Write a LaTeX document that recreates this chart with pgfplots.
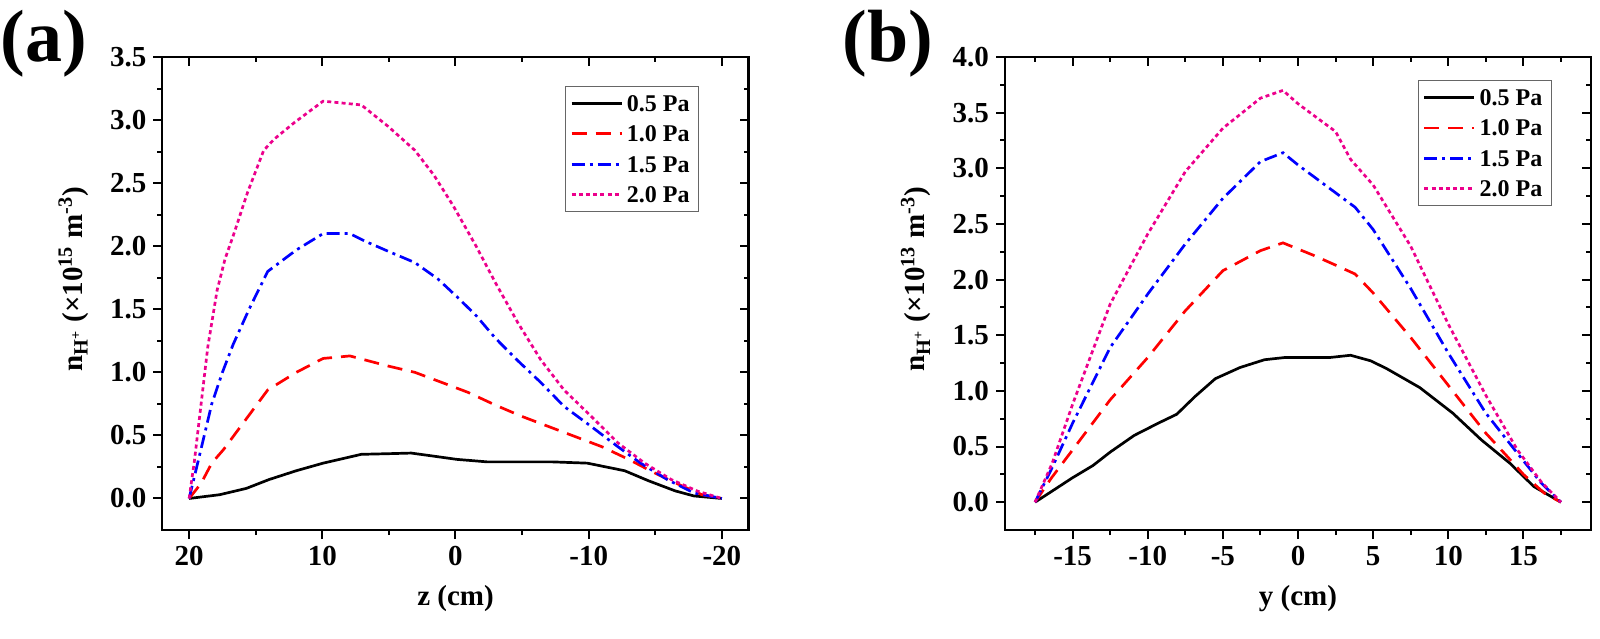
\documentclass[border=0pt]{standalone}
\usepackage{fontspec}
\setmainfont{Liberation Serif}
\usepackage{pgfplots}
\usepackage{pgfplotstable}
\pgfplotsset{compat=1.18}

\pgfplotstableread{
x y
20 0
17.7 0.03
15.7 0.08
14.0 0.15
11.95 0.22
9.94 0.28
7.07 0.35
5.06 0.355
3.33 0.36
1.6 0.335
-0.1 0.31
-2.4 0.29
-4.4 0.29
-7.3 0.29
-9.9 0.28
-12.7 0.22
-14.5 0.14
-16.5 0.06
-17.9 0.02
-20 0
}\aA
\pgfplotstableread{
x y
20 0
19.1 0.12
18.3 0.28
17.4 0.39
16.7 0.49
14.1 0.86
11.95 1.0
9.94 1.11
7.93 1.13
5.06 1.05
3.05 1.0
1.03 0.92
-0.97 0.84
-3.0 0.74
-5.0 0.65
-7.0 0.57
-9.0 0.49
-11.0 0.41
-13.0 0.31
-15.0 0.20
-17.0 0.10
-18.5 0.03
-20 0
}\aB
\pgfplotstableread{
x y
20 0
19.2 0.35
18.3 0.75
17.5 1.0
16.7 1.22
15.5 1.5
14.1 1.80
11.95 1.97
9.94 2.10
7.93 2.10
6.8 2.04
5.06 1.96
3.05 1.87
1.32 1.74
-0.1 1.60
-1.55 1.45
-3.0 1.27
-4.7 1.09
-6.4 0.92
-8.15 0.73
-10.2 0.57
-12.2 0.41
-13.9 0.28
-15.9 0.15
-17.9 0.044
-20 0
}\aC
\pgfplotstableread{
x y
20 0
19.6 0.30
19.1 0.75
18.6 1.2
17.9 1.65
17.3 1.9
16.7 2.08
15.6 2.43
14.4 2.76
13.6 2.85
12.1 2.98
9.94 3.15
7.07 3.12
5.06 2.95
3.05 2.76
1.6 2.56
0.17 2.32
-1.55 2.0
-3.0 1.71
-4.7 1.39
-6.4 1.10
-8.15 0.86
-10.2 0.65
-12.2 0.44
-14.2 0.28
-16.2 0.15
-18.2 0.057
-20 0
}\aD

\pgfplotstableread{
x y
-17.5 0
-16.36 0.1
-15 0.22
-13.64 0.33
-12.5 0.45
-10.9 0.60
-9.3 0.71
-8.07 0.79
-6.85 0.95
-5.5 1.11
-3.86 1.21
-2.23 1.28
-0.87 1.30
0.5 1.30
2.12 1.30
3.5 1.32
4.84 1.27
5.9 1.20
8.1 1.03
10.3 0.80
12.2 0.56
14.1 0.35
15.7 0.14
17.5 0
}\bA
\pgfplotstableread{
x y
-17.5 0
-16.4 0.22
-15 0.47
-12.5 0.92
-10 1.30
-7.5 1.72
-5 2.08
-2.5 2.26
-1 2.33
1 2.22
2.5 2.13
3.8 2.05
5 1.88
7.5 1.48
10 1.05
12.5 0.62
14 0.40
15 0.25
16.4 0.08
17.5 0
}\bB
\pgfplotstableread{
x y
-17.5 0
-16.4 0.30
-15 0.71
-12.5 1.39
-10 1.87
-7.5 2.32
-5 2.73
-2.5 3.06
-1 3.14
0 3.03
2.5 2.78
3.8 2.65
5 2.45
7.5 1.92
10 1.34
12.5 0.80
14.6 0.44
16.2 0.17
17.5 0
}\bC
\pgfplotstableread{
x y
-17.5 0
-16.36 0.35
-15 0.88
-12.5 1.78
-10 2.41
-7.5 2.97
-5 3.36
-2.5 3.63
-1 3.70
0 3.58
2.5 3.33
3.5 3.08
5 2.85
7.5 2.30
10 1.60
12.5 0.96
14.6 0.47
16.2 0.18
17.5 0
}\bD

\pgfplotsset{
  myaxis/.style={
    scale only axis, width=293pt, height=236.5pt,
    axis line style={line width=1pt},
    tick style={line width=1pt, black},
    major tick length=4.5pt, minor tick length=2.5pt,
    tick align=outside, xtick pos=left, ytick pos=left,
    ticklabel style={font=\fontsize{14.5}{16}\selectfont\bfseries},
    label style={font=\fontsize{14.5}{16}\selectfont\bfseries},
    xlabel style={at={(axis description cs:0.5,-0.144)}, anchor=center},
    ylabel style={at={(axis description cs:-0.152,0.53)}, anchor=center},
    legend cell align=left,
    legend style={draw=black!60,
      font=\fontsize{12}{13}\selectfont\bfseries,
      inner sep=2.5pt, row sep=3.2pt,
      nodes={inner sep=2pt, text height=8pt, text depth=0pt},
      anchor=north east},
    legend image code/.code={\draw[#1] (0pt,0pt) -- (25pt,0pt);},
  },
  mirror/.style={
    scale only axis, width=293pt, height=236.5pt,
    axis line style={line width=1pt},
    tick style={line width=1pt, black},
    major tick length=4.5pt, minor tick length=2.5pt,
    tick align=inside, xtick pos=right, ytick pos=right,
    xticklabels={}, yticklabels={},
  },
  s05/.style={black, line width=1.35pt},
  s10/.style={red, line width=1.35pt, dash pattern=on 7.5pt off 4.5pt},
  s15/.style={blue, line width=1.35pt, dash pattern=on 6.5pt off 2.5pt on 1.5pt off 2.5pt},
  s20/.style={magenta, line width=1.35pt, dash pattern=on 2pt off 1.6pt},
}

\newcommand{\ylab}[1]{n\textsubscript{H\textsuperscript{+}} (×10\textsuperscript{#1} m\textsuperscript{-3})}

\begin{document}
\begin{tikzpicture}
\useasboundingbox (-81.25pt,-54pt) rectangle (718.75pt,265pt);

% ---------- panel (a)
\begin{axis}[myaxis, name=a, at={(0pt,0pt)}, anchor=south west,
  x dir=reverse, xmin=-22, xmax=22, ymin=-0.25, ymax=3.5,
  xtick={-20,-10,0,10,20}, xticklabels={-20,-10,0,10,20},
  minor xtick={-15,-5,5,15},
  ytick={0,0.5,1,1.5,2,2.5,3,3.5},
  yticklabels={0.0,0.5,1.0,1.5,2.0,2.5,3.0,3.5},
  minor ytick={0.25,0.75,1.25,1.75,2.25,2.75,3.25},
  xlabel={z (cm)}, ylabel={\ylab{15}},
  legend style={at={(0.9155,0.9386)}}]
\addplot[s05] table[x=x,y=y] {\aA};
\addplot[s10] table[x=x,y=y] {\aB};
\addplot[s15] table[x=x,y=y] {\aC};
\addplot[s20] table[x=x,y=y] {\aD};
\legend{0.5 Pa,1.0 Pa,1.5 Pa,2.0 Pa}
\end{axis}
\begin{axis}[mirror, at={(0pt,0pt)}, anchor=south west,
  x dir=reverse, xmin=-22, xmax=22, ymin=-0.25, ymax=3.5,
  xtick={-20,-10,0,10,20}, minor xtick={-15,-5,5,15},
  ytick={0,0.5,1,1.5,2,2.5,3,3.5},
  minor ytick={0.25,0.75,1.25,1.75,2.25,2.75,3.25}]
\end{axis}

% ---------- panel (b)
\begin{axis}[myaxis, name=b, at={(421.25pt,0pt)}, anchor=south west,
  xmin=-19.5, xmax=19.5, ymin=-0.25, ymax=4.0,
  xtick={-15,-10,-5,0,5,10,15}, xticklabels={-15,-10,-5,0,5,10,15},
  minor xtick={-17.5,-12.5,-7.5,-2.5,2.5,7.5,12.5,17.5},
  ytick={0,0.5,1,1.5,2,2.5,3,3.5,4},
  yticklabels={0.0,0.5,1.0,1.5,2.0,2.5,3.0,3.5,4.0},
  minor ytick={0.25,0.75,1.25,1.75,2.25,2.75,3.25,3.75},
  xlabel={y (cm)}, ylabel={\ylab{13}},
  legend style={at={(0.933,0.951)}}]
\addplot[s05] table[x=x,y=y] {\bA};
\addplot[s10] table[x=x,y=y] {\bB};
\addplot[s15] table[x=x,y=y] {\bC};
\addplot[s20] table[x=x,y=y] {\bD};
\legend{0.5 Pa,1.0 Pa,1.5 Pa,2.0 Pa}
\end{axis}
\begin{axis}[mirror, at={(421.25pt,0pt)}, anchor=south west,
  xmin=-19.5, xmax=19.5, ymin=-0.25, ymax=4.0,
  xtick={-15,-10,-5,0,5,10,15},
  minor xtick={-17.5,-12.5,-7.5,-2.5,2.5,7.5,12.5,17.5},
  ytick={0,0.5,1,1.5,2,2.5,3,3.5,4},
  minor ytick={0.25,0.75,1.25,1.75,2.25,2.75,3.25,3.75}]
\end{axis}

\node[anchor=base west, inner sep=0pt, font=\fontsize{37}{40}\selectfont\bfseries]
  at ([xshift=-81.25pt,yshift=234pt]a.south west) {(a)};
\node[anchor=base west, inner sep=0pt, font=\fontsize{37}{40}\selectfont\bfseries]
  at ([xshift=-81.5pt,yshift=234pt]b.south west) {(b)};
\end{tikzpicture}
\end{document}
